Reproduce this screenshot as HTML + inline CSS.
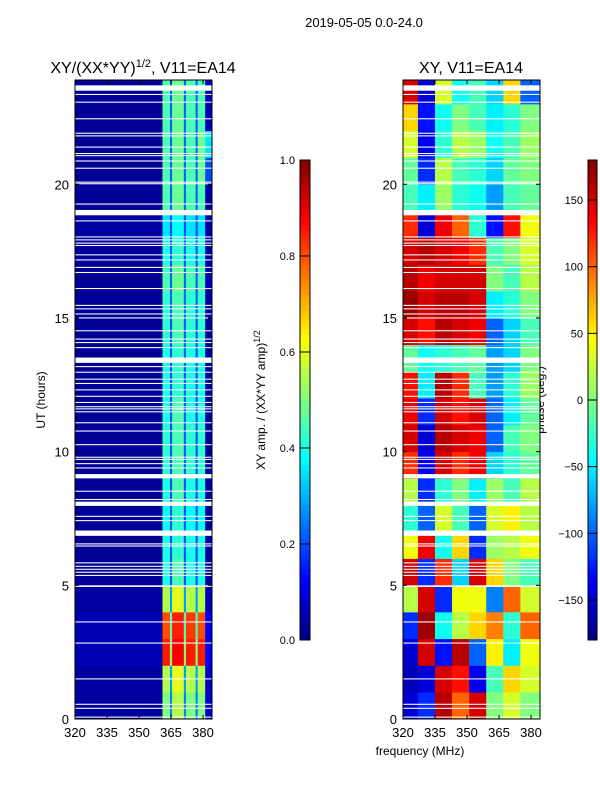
<!DOCTYPE html>
<html><head><meta charset="utf-8"><style>
html,body{margin:0;padding:0;background:#fff;width:600px;height:800px;overflow:hidden}
svg text{font-family:"Liberation Sans","DejaVu Sans",sans-serif;fill:#000}
</style></head><body>
<svg id="fig" width="600" height="800" viewBox="0 0 600 800" xmlns="http://www.w3.org/2000/svg">
<text x="364" y="27" font-size="13" text-anchor="middle">2019-05-05 0.0-24.0</text>
<text x="143" y="73" font-size="16" text-anchor="middle">XY/(XX*YY)<tspan dy="-6" font-size="11">1/2</tspan><tspan dy="6">, V11=EA14</tspan></text>
<text x="471" y="73" font-size="16" text-anchor="middle">XY, V11=EA14</text>
<text x="420" y="755" font-size="12" text-anchor="middle">frequency (MHz)</text>
<text transform="translate(45,400) rotate(-90)" font-size="12" text-anchor="middle">UT (hours)</text>
<text transform="translate(265,400) rotate(-90)" font-size="12" text-anchor="middle">XY amp. / (XX*YY amp)<tspan dy="-5" font-size="9">1/2</tspan></text>
<text transform="translate(544,400) rotate(-90)" font-size="12" text-anchor="middle">phase (deg.)</text>
<g id="layer"></g>
</svg>
<script>
// ---- data ----
const timeEdges = [0,1,2,3,4,5,6,7,8,9,10,11,12,13,14,15,16,17,18,19,20,21,22,23,23.9];
const ampFreqEdges = [320,361,364.5,365.5,371,372,376.5,377.5,381,384];
const ampGrid = [
[0.03,0.50,0.25,0.55,0.25,0.50,0.25,0.50,0.08],
[0.03,0.55,0.28,0.60,0.28,0.55,0.28,0.55,0.08],
[0.05,0.85,0.50,0.88,0.50,0.85,0.50,0.85,0.12],
[0.05,0.80,0.45,0.85,0.45,0.82,0.45,0.80,0.12],
[0.03,0.55,0.28,0.60,0.28,0.55,0.28,0.55,0.06],
[0.02,0.40,0.20,0.45,0.20,0.40,0.20,0.40,0.04],
[0.02,0.40,0.20,0.42,0.20,0.40,0.20,0.40,0.04],
[0.02,0.38,0.20,0.42,0.20,0.38,0.20,0.38,0.04],
[0.02,0.40,0.20,0.45,0.20,0.40,0.20,0.40,0.04],
[0.02,0.42,0.20,0.45,0.20,0.42,0.20,0.42,0.04],
[0.02,0.42,0.20,0.45,0.20,0.42,0.20,0.42,0.04],
[0.02,0.40,0.20,0.45,0.20,0.40,0.20,0.40,0.04],
[0.02,0.40,0.20,0.42,0.20,0.40,0.20,0.40,0.04],
[0.02,0.40,0.20,0.42,0.20,0.40,0.20,0.40,0.04],
[0.02,0.42,0.20,0.45,0.20,0.42,0.20,0.42,0.04],
[0.02,0.42,0.22,0.45,0.22,0.42,0.22,0.42,0.04],
[0.02,0.45,0.22,0.48,0.22,0.45,0.22,0.45,0.06],
[0.03,0.40,0.20,0.42,0.20,0.40,0.20,0.40,0.04],
[0.03,0.35,0.20,0.38,0.20,0.35,0.20,0.35,0.04],
[0.02,0.45,0.22,0.48,0.22,0.45,0.22,0.45,0.04],
[0.02,0.45,0.22,0.48,0.22,0.45,0.22,0.48,0.20],
[0.02,0.45,0.22,0.48,0.22,0.45,0.22,0.48,0.35],
[0.02,0.45,0.22,0.48,0.22,0.45,0.22,0.45,0.06],
[0.02,0.45,0.22,0.48,0.22,0.45,0.22,0.45,0.06]
];
const phaseFreqEdges = [320,327,335,343,351,359,367,375,384];
const phaseGrid = [
[-150,-120,160,100,150,0,30,0],
[-160,-150,150,130,-140,-20,60,30],
[-150,150,-130,160,-100,50,-50,40],
[-120,170,-40,20,60,90,-30,100],
[20,150,-120,40,40,-90,100,30],
[150,-120,120,-60,150,60,0,-20],
[40,140,-40,60,-120,10,20,40],
[-30,-100,30,-20,-100,30,50,20],
[20,-120,-30,0,-50,10,-20,20],
[120,-140,150,120,140,-60,-30,-10],
[150,-150,160,150,140,-100,-20,0],
[140,-120,150,130,150,-100,-50,-10],
[130,-50,160,120,-20,-80,-30,10],
[-10,-40,-30,-20,-10,-80,-60,0],
[150,130,160,150,140,-100,-60,-20],
[170,150,160,160,150,-50,-30,0],
[160,140,150,150,150,0,-20,20],
[150,160,150,140,120,-20,0,30],
[120,-150,140,100,-30,-130,130,40],
[-20,-50,10,-30,-40,-80,-20,-10],
[-10,-120,20,-20,-30,-60,-10,0],
[30,-140,-30,20,10,-40,-20,10],
[60,-130,-40,0,-20,-50,-30,0],
[150,-150,30,-40,-20,-60,60,-100]
];
const flagged = [[23.5,23.7],[23.34,23.38],[23.05,23.09],[22.43,22.47],[21.89,21.93],[21.79,21.83],[21.37,21.41],[21.13,21.17],[21.05,21.09],[20.85,20.89],[20.58,20.62],[20.06,20.1],[20.0,20.04],[19.24,19.28],[18.84,19.04],[18.61,18.65],[18.01,18.05],[17.9,17.94],[17.78,17.82],[17.69,17.73],[17.34,17.38],[17.15,17.19],[16.87,16.91],[16.68,16.72],[16.08,16.12],[15.45,15.49],[15.32,15.36],[15.13,15.17],[14.98,15.02],[14.5,14.54],[14.19,14.23],[14.06,14.1],[13.87,13.91],[13.32,13.52],[13.16,13.2],[12.95,12.99],[12.69,12.73],[12.53,12.57],[12.29,12.33],[12.05,12.09],[11.82,11.86],[11.66,11.7],[11.58,11.62],[11.47,11.51],[11.06,11.1],[10.75,10.79],[10.24,10.28],[9.77,9.81],[9.69,9.73],[9.53,9.57],[9.37,9.41],[9.0,9.16],[8.5,8.54],[8.19,8.23],[7.97,8.13],[7.56,7.6],[7.4,7.44],[6.85,7.05],[6.53,6.57],[6.45,6.49],[5.82,5.86],[5.69,5.73],[5.58,5.62],[5.47,5.51],[5.35,5.39],[4.94,5.0],[3.61,3.65],[2.82,2.86],[1.48,1.52],[0.53,0.57],[0.38,0.42],[0.05,0.09]];
const freqTicks = [320,335,350,365,380];
const timeTicks = [0,5,10,15,20];
const ampTicks = [0.0,0.2,0.4,0.6,0.8,1.0];
const phaseTicks = [-150,-100,-50,0,50,100,150];

// ---- helpers ----
const NS="http://www.w3.org/2000/svg";
const layer=document.getElementById('layer');
function mk(tag,attrs,parent){const e=document.createElementNS(NS,tag);for(const k in attrs)e.setAttribute(k,attrs[k]);(parent||layer).appendChild(e);return e;}
function jet(v){v=Math.max(0,Math.min(1,v));
 const r=Math.max(0,Math.min(1,1.5-Math.abs(4*v-3))),g=Math.max(0,Math.min(1,1.5-Math.abs(4*v-2))),b=Math.max(0,Math.min(1,1.5-Math.abs(4*v-1)));
 return `rgb(${Math.round(r*255)},${Math.round(g*255)},${Math.round(b*255)})`;}
const T0=0,T1=23.9,F0=320,F1=384.2;
const yT=t=>719-(t-T0)*(639/(T1-T0));
function xF(x0){return f=>x0+(f-F0)*(137/(F1-F0));}

function panel(name,x0,fEdges,grid,norm){
 const xs=xF(x0);
 const g=mk('g',{});
 
 
 for(let r=0;r<grid.length;r++){
  for(let c=0;c<grid[r].length;c++){
   const x1=xs(fEdges[c]),x2=xs(fEdges[c+1]),y1=yT(timeEdges[r+1]),y2=yT(timeEdges[r]);
   const cell=mk('rect',{x:x1,y:y1,width:x2-x1+0.3,height:y2-y1+0.3,fill:jet(norm(grid[r][c]))},g);
   
   
  }
 }
 for(const fl of flagged){
  const y1=yT(fl[1]),y2=yT(fl[0]);
  const band=mk('rect',{x:x0,y:y1,width:137,height:Math.max(1,y2-y1),fill:'#fff'},g);
  
  
 }
 const fr=mk('rect',{x:x0,y:80,width:137,height:639,fill:'none',stroke:'#000','stroke-width':1},g);
 
 
 for(const f of freqTicks){
  const x=xs(f);
  mk('line',{x1:x,y1:719,x2:x,y2:715,stroke:'#000'},g);
  mk('line',{x1:x,y1:80,x2:x,y2:84,stroke:'#000'},g);
  const t=mk('text',{x:x,y:737,'font-size':13,'text-anchor':'middle'},g);t.textContent=f;
  
  
 }
 for(const tt of timeTicks){
  const y=yT(tt);
  mk('line',{x1:x0,y1:y,x2:x0+4,y2:y,stroke:'#000'},g);
  mk('line',{x1:x0+137,y1:y,x2:x0+133,y2:y,stroke:'#000'},g);
  const t=mk('text',{x:x0-6,y:y+5,'font-size':13,'text-anchor':'end'},g);t.textContent=tt;
  
  
 }
}
panel('amplitude-heatmap',75,ampFreqEdges,ampGrid,v=>v);
panel('phase-heatmap',403,phaseFreqEdges,phaseGrid,v=>(v+180)/360);

function colorbar(name,x,w,ticks,lo,hi,fmt){
 const g=mk('g',{});
 
 
 const n=96;
 for(let i=0;i<n;i++){
  const y=160+480*i/n;
  mk('rect',{x:x,y:y,width:w,height:480/n+0.5,fill:jet(1-(i+0.5)/n)},g);
 }
 mk('rect',{x:x,y:160,width:w,height:480,fill:'none',stroke:'#000'},g);
 for(const v of ticks){
  const y=640-(v-lo)/(hi-lo)*480;
  mk('line',{x1:x,y1:y,x2:x+w,y2:y,stroke:'#000'},g);
  const t=mk('text',{x:x-5,y:y+4,'font-size':11,'text-anchor':'end'},g);
  t.textContent=fmt(v);
  
  
 }
}
colorbar('amp-colorbar',300,10,ampTicks,0,1,v=>v.toFixed(1));
colorbar('phase-colorbar',588,9,phaseTicks,-180,180,v=>v<0?'\u2212'+(-v):''+v);
</script>
</body></html>
